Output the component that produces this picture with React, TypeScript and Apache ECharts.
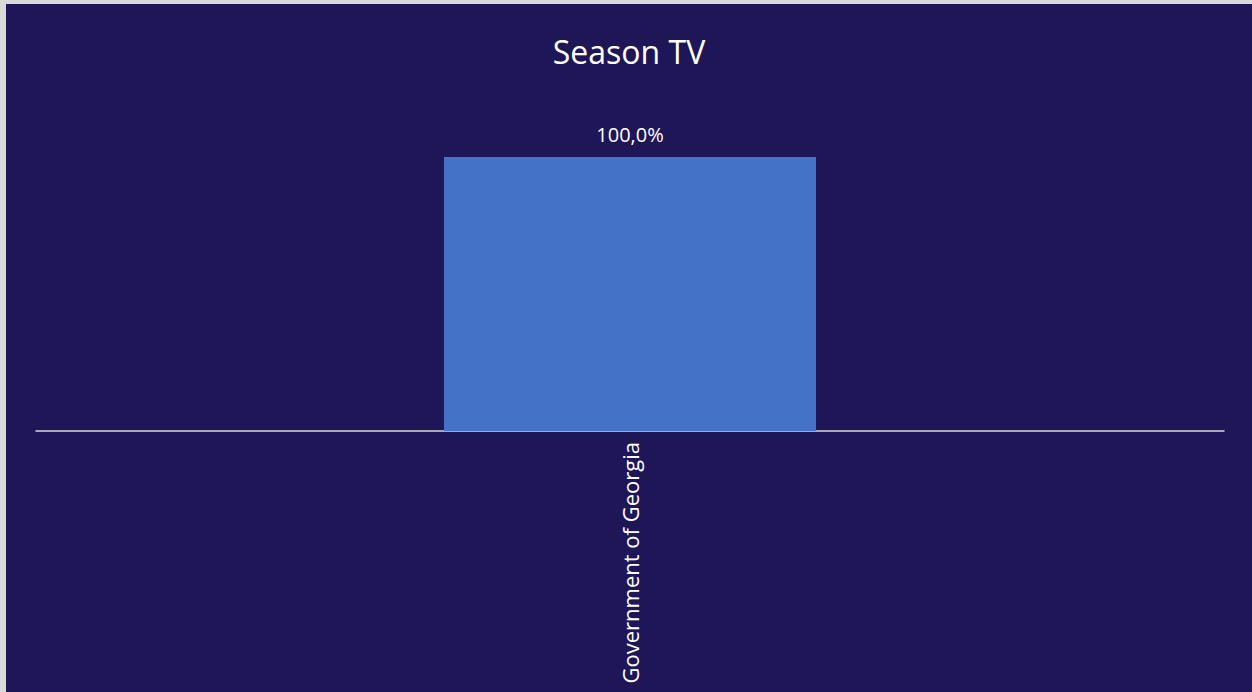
import React, { useEffect, useRef } from "react";
import * as echarts from "echarts";

const categories = ["Government of Georgia"];
const values = [100];
const titleText = "Season TV";

export default function App() {
  const ref = useRef<HTMLDivElement>(null);
  useEffect(() => {
    document.body.style.margin = "0";
    const chart = echarts.init(ref.current!, null, { renderer: "svg" });
    chart.setOption({
      animation: false,
      backgroundColor: "#1F1657",
      textStyle: { fontFamily: "Open Sans" },
      title: {
        text: titleText,
        left: "center",
        top: 26,
        textStyle: { color: "#ffffff", fontSize: 32, fontWeight: "normal", fontFamily: "Open Sans" },
      },
      grid: { left: 30, right: 28, top: 153, bottom: 261 },
      xAxis: {
        type: "category",
        data: categories,
        axisLine: { lineStyle: { color: "#d9d9d9", width: 1.5 } },
        axisTick: { show: false },
        axisLabel: { rotate: 90, color: "#ffffff", fontSize: 22, margin: 11 },
      },
      yAxis: {
        type: "value",
        min: 0,
        max: 100,
        show: false,
        splitLine: { show: false },
      },
      series: [
        {
          type: "bar",
          data: values,
          barWidth: 372,
          itemStyle: { color: "#4472C4" },
          label: {
            show: true,
            position: "top",
            distance: 13,
            color: "#ffffff",
            fontSize: 20,
            formatter: (p: any) => p.value.toFixed(1).replace(".", ",") + "%",
          },
        },
      ],
    });
    return () => chart.dispose();
  }, []);
  return (
    <div style={{ position: "fixed", left: 0, top: 0, width: 1252, height: 692, background: "#d9d9d9" }}>
      <div ref={ref} style={{ position: "absolute", left: 6, top: 4, width: 1246, height: 688 }} />
    </div>
  );
}
